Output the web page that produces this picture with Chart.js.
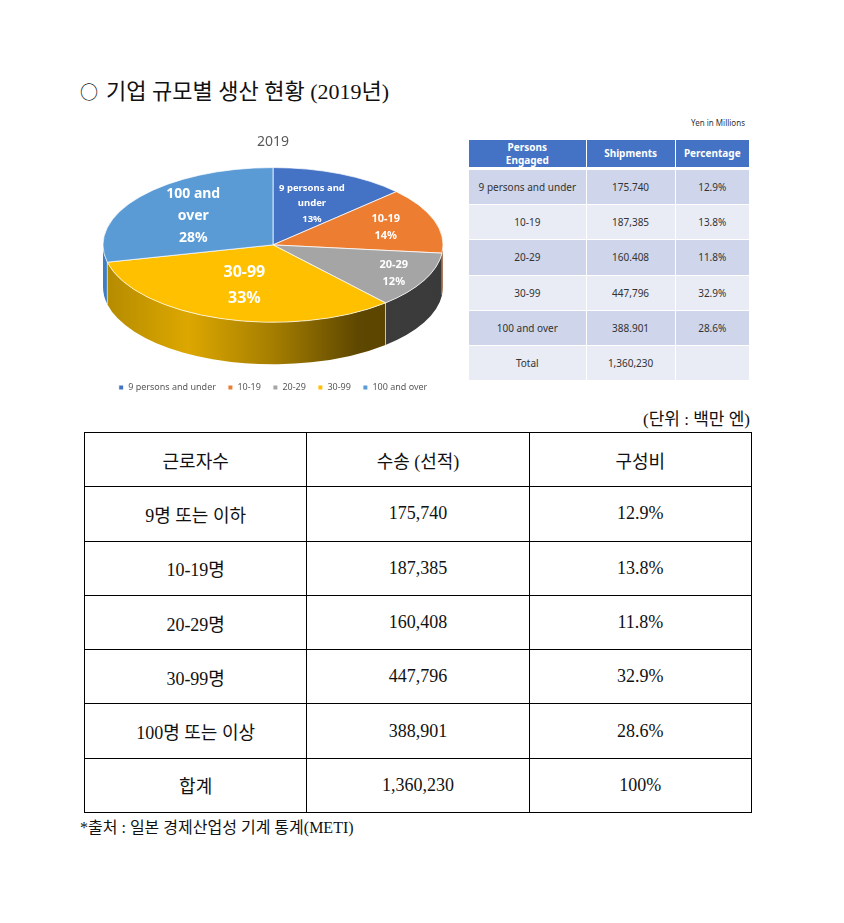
<!DOCTYPE html>
<html lang="ko">
<head>
<meta charset="utf-8">
<title>기업 규모별 생산 현황 (2019년)</title>
<script src="https://cdn.jsdelivr.net/npm/chart.js@4.4.1/dist/chart.umd.min.js"></script>
<style>
  html, body { margin: 0; padding: 0; background: #fff; }
  body { width: 844px; height: 923px; position: relative; overflow: hidden;
         font-family: "Liberation Serif", "Noto Sans CJK KR", serif; color: #111; }
  .title { position: absolute; left: 80px; top: 73px; font-size: 22px; white-space: nowrap; }
  .title .mark { font-family: "Noto Sans CJK KR", sans-serif; font-size: 18px; margin-right: 8px; }
  .pie-box { position: absolute; left: 93px; top: 130px; width: 360px; height: 272px; }
  .yen { position: absolute; left: 600px; width: 145px; top: 117px; text-align: right;
         font-family: "Noto Sans", sans-serif; font-size: 8px; color: #333; }
  table.small { position: absolute; left: 468px; top: 139px; width: 282px; border-collapse: collapse;
                font-family: "Noto Sans", "Noto Sans CJK JP", sans-serif; font-size: 10px; color: #333; }
  table.small td, table.small th { border: 1.5px solid #fff; text-align: center; padding: 0; }
  table.small th { background: #4472C4; color: #fff; font-weight: bold; height: 27px; line-height: 13px;
                   border-bottom: 3px solid #fff; }
  table.small td { height: 34.2px; }
  table.small tr.odd td { background: #CFD5EA; }
  table.small tr.even td { background: #E9EBF5; }
  .unit { position: absolute; right: 94px; top: 405px; font-size: 17px; }
  table.big { position: absolute; left: 84px; top: 432px; width: 668px; border-collapse: collapse; font-size: 18px; }
  table.big td { border: 1px solid #000; text-align: center; height: 53.3px; padding: 0; width: 33.3%; }
  .source { position: absolute; left: 80px; top: 814px; font-size: 16px; }
</style>
</head>
<body>
<div class="title"><span class="mark">○</span>기업 규모별 생산 현황 (2019년)</div>
<div class="pie-box"><canvas id="pieChart"></canvas></div>
<div class="yen">Yen in Millions</div>
<table class="small" id="smallTable"></table>
<div class="unit">(단위 : 백만 엔)</div>
<table class="big" id="bigTable"></table>
<div class="source">*출처 : 일본 경제산업성 기계 통계(METI)</div>

<script>
// 데이터
const categories = ['9 persons and under', '10-19', '20-29', '30-99', '100 and over'];
const shipments = [175740, 187385, 160408, 447796, 388901];
const pieLabelPct = [13, 14, 12, 33, 28];
const sharePct = [12.9, 13.8, 11.8, 32.9, 28.6];
const totalShipments = 1360230;
// 작은 표에 찍힌 그대로의 숫자 표기
const smallShipmentText = ['175.740', '187,385', '160.408', '447,796', '388.901'];
const koCategories = ['9명 또는 이하', '10-19명', '20-29명', '30-99명', '100명 또는 이상'];
const koHeaders = ['근로자수', '수송 (선적)', '구성비'];
const smallHeaders = ['Persons<br>Engaged', 'Shipments', 'Percentage'];

// 색상 / 스타일
const sliceColors = ['#4472C4', '#ED7D31', '#A5A5A5', '#FFC000', '#5B9BD5'];
const sideStops = [
  ['#2F5597', '#1F3864'],
  ['#C55A11', '#843C0C'],
  ['#444444', '#3A3A3A'],
  ['#B38A00', '#DCA700', '#A57E00', '#5E4700', '#574200'],
  ['#3F7FBF', '#2E75B6']
];
const labelLines = [['9 persons and', 'under'], ['10-19'], ['20-29'], ['30-99'], ['100 and', 'over']];
const labelFont = [9.5, 11, 11, 16, 14];
const labelRadius = [0.58, 0.7, 0.8, 0.55, 0.6];
const squash = 0.455;
const depth = 42;

// 3D 흉내: 파이를 세로로 눌러 그리고 앞쪽 옆면을 먼저 칠한다
const pie3d = {
  id: 'pie3d',
  beforeDatasetsDraw(chart) {
    const ctx = chart.ctx;
    const arcs = chart.getDatasetMeta(0).data;
    const cx = arcs[0].x, cy = arcs[0].y, r = arcs[0].outerRadius;
    ctx.save();
    ctx.translate(cx, cy - depth / 2);
    ctx.scale(1, squash);
    ctx.translate(-cx, -cy);
    const D = depth / squash;
    arcs.forEach(function(a, i) {
      const s = Math.max(a.startAngle, 0), e = Math.min(a.endAngle, Math.PI);
      if (e <= s) return;
      const g = ctx.createLinearGradient(cx - r, 0, cx + r, 0);
      sideStops[i].forEach(function(c, j, arr) { g.addColorStop(arr.length > 1 ? j / (arr.length - 1) : 0, c); });
      ctx.beginPath();
      ctx.arc(cx, cy, r, s, e);
      ctx.arc(cx, cy + D, r, e, s, true);
      ctx.closePath();
      ctx.fillStyle = g;
      ctx.fill();
    });
    // 옆면 경계선
    ctx.strokeStyle = 'rgba(255,255,255,0.8)';
    ctx.lineWidth = 1;
    arcs.forEach(function(a) {
      const t = a.startAngle;
      if (t > 0 && t < Math.PI) {
        ctx.beginPath();
        ctx.moveTo(cx + Math.cos(t) * r, cy + Math.sin(t) * r);
        ctx.lineTo(cx + Math.cos(t) * r, cy + Math.sin(t) * r + D);
        ctx.stroke();
      }
    });
  },
  afterDatasetsDraw(chart) {
    const ctx = chart.ctx;
    ctx.restore();
    const arcs = chart.getDatasetMeta(0).data;
    ctx.save();
    ctx.fillStyle = '#fff';
    ctx.textAlign = 'center';
    ctx.textBaseline = 'middle';
    arcs.forEach(function(a, i) {
      const m = (a.startAngle + a.endAngle) / 2;
      const px = a.x + Math.cos(m) * a.outerRadius * labelRadius[i];
      const py = a.y - depth / 2 + Math.sin(m) * a.outerRadius * labelRadius[i] * squash;
      const lines = labelLines[i].concat([pieLabelPct[i] + '%']);
      const fs = labelFont[i];
      const lh = fs * 1.6;
      ctx.font = 'bold ' + fs + 'px "Noto Sans", "Open Sans", sans-serif';
      lines.forEach(function(t, k) {
        ctx.fillText(t, px, py + (k - (lines.length - 1) / 2) * lh);
      });
    });
    ctx.restore();
  }
};

new Chart(document.getElementById('pieChart'), {
  type: 'pie',
  data: {
    labels: categories,
    datasets: [{
      data: shipments,
      backgroundColor: sliceColors,
      borderColor: '#ffffff',
      borderWidth: 1,
      clip: false
    }]
  },
  options: {
    responsive: true,
    maintainAspectRatio: false,
    animation: false,
    radius: 170,
    events: [],
    plugins: {
      title: {
        display: true,
        text: '2019',
        color: '#595959',
        font: { family: '"Noto Sans", sans-serif', size: 14, weight: 'normal' },
        padding: { top: 4, bottom: 10 }
      },
      legend: {
        position: 'bottom',
        labels: {
          boxWidth: 5,
          boxHeight: 5,
          padding: 12,
          color: '#595959',
          font: { family: '"Noto Sans", sans-serif', size: 9 }
        }
      },
      tooltip: { enabled: false }
    }
  },
  plugins: [pie3d]
});

// 오른쪽 작은 표
let sHtml = '<tr>' + smallHeaders.map(function(h, i) {
  const w = [119, 89, 74][i];
  return '<th style="width:' + w + 'px">' + h + '</th>';
}).join('') + '</tr>';
categories.forEach(function(c, i) {
  sHtml += '<tr class="' + (i % 2 === 0 ? 'odd' : 'even') + '"><td>' + c + '</td><td>' +
    smallShipmentText[i] + '</td><td>' + sharePct[i].toFixed(1) + '%</td></tr>';
});
sHtml += '<tr class="even"><td>Total</td><td>' + totalShipments.toLocaleString('en-US') + '</td><td></td></tr>';
document.getElementById('smallTable').innerHTML = sHtml;

// 아래 큰 표
let bHtml = '<tr>' + koHeaders.map(function(h) { return '<td>' + h + '</td>'; }).join('') + '</tr>';
koCategories.forEach(function(c, i) {
  bHtml += '<tr><td>' + c + '</td><td>' + shipments[i].toLocaleString('en-US') + '</td><td>' +
    sharePct[i].toFixed(1) + '%</td></tr>';
});
bHtml += '<tr><td>합계</td><td>' + totalShipments.toLocaleString('en-US') + '</td><td>100%</td></tr>';
document.getElementById('bigTable').innerHTML = bHtml;
</script>
</body>
</html>
